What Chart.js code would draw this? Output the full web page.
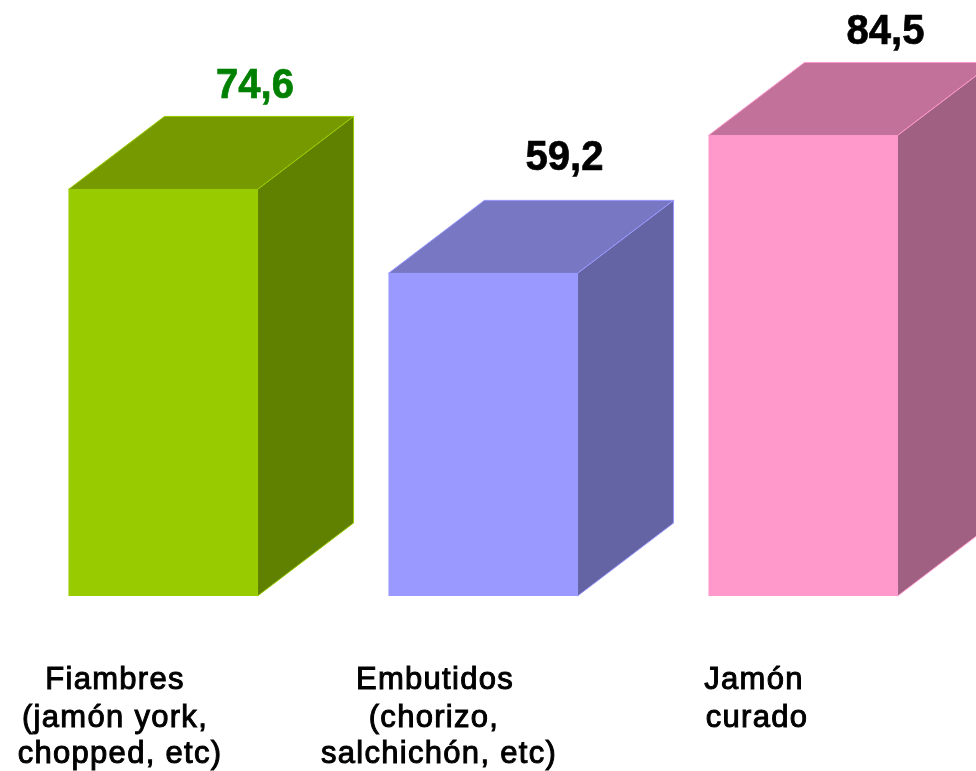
<!DOCTYPE html>
<html>
<head>
<meta charset="utf-8">
<title>Consumo</title>
<script src="https://cdn.jsdelivr.net/npm/chart.js@4"></script>
<style>
html,body{margin:0;padding:0;background:#fff;overflow:hidden}
canvas{display:block}
</style>
</head>
<body>
<canvas id="chart" width="976" height="771"></canvas>
<script>
const categories = ['Fiambres', 'Embutidos', 'Jamón curado'];
const categoryLines = [
  ['Fiambres', '(jamón york,', 'chopped, etc)'],
  ['Embutidos', '(chorizo,', 'salchichón, etc)'],
  ['Jamón', 'curado']
];
const values = [74.6, 59.2, 84.5];
const valueLabels = ['74,6', '59,2', '84,5'];
const valueColors = ['#008000', '#000000', '#000000'];
const frontColors = ['#99cc00', '#9999ff', '#ff99cc'];
const topColors = ['#779900', '#7777c4', '#c2729a'];
const sideColors = ['#608000', '#6464a4', '#a06082'];

// fake 3d depth of the boxes
const depthX = 96, depthY = 73;
// text placement relative to each bar
const valueDx = [92, 81.5, 82.5];
const valueDy = [91, 103, 91];
const lineDx = [[-48, -48, -43], [-48, -49, -44], [-49, -46]];
const lineBaseY = [689, 727, 763];

const box3d = {
  id: 'box3d',
  beforeDatasetsDraw(chart) {
    const ctx = chart.ctx;
    chart.getDatasetMeta(0).data.forEach((bar, i) => {
      const l = bar.x - bar.width / 2, r = bar.x + bar.width / 2;
      const t = bar.y, b = bar.base;
      ctx.save();
      ctx.lineWidth = 1;
      ctx.strokeStyle = frontColors[i];
      ctx.fillStyle = topColors[i];
      ctx.beginPath();
      ctx.moveTo(l, t);
      ctx.lineTo(l + depthX, t - depthY);
      ctx.lineTo(r + depthX, t - depthY);
      ctx.lineTo(r, t);
      ctx.closePath();
      ctx.fill();
      ctx.stroke();
      ctx.fillStyle = sideColors[i];
      ctx.beginPath();
      ctx.moveTo(r, t);
      ctx.lineTo(r + depthX, t - depthY);
      ctx.lineTo(r + depthX, b - depthY);
      ctx.lineTo(r, b);
      ctx.closePath();
      ctx.fill();
      ctx.stroke();
      ctx.restore();
    });
  },
  afterDatasetsDraw(chart) {
    const ctx = chart.ctx;
    chart.getDatasetMeta(0).data.forEach((bar, i) => {
      ctx.save();
      ctx.textAlign = 'center';
      ctx.textBaseline = 'alphabetic';
      ctx.fillStyle = valueColors[i];
      ctx.strokeStyle = valueColors[i];
      ctx.lineWidth = 0.7;
      ctx.font = 'bold 43px "Liberation Sans"';
      ctx.fillText(valueLabels[i], bar.x + valueDx[i], bar.y - valueDy[i], 78);
      ctx.strokeText(valueLabels[i], bar.x + valueDx[i], bar.y - valueDy[i], 78);

      ctx.fillStyle = '#000';
      ctx.strokeStyle = '#000';
      ctx.lineWidth = 1;
      ctx.font = '31px "Liberation Sans"';
      ctx.letterSpacing = '1.3px';
      categoryLines[i].forEach((line, n) => {
        ctx.fillText(line, bar.x + lineDx[i][n], lineBaseY[n]);
        ctx.strokeText(line, bar.x + lineDx[i][n], lineBaseY[n]);
      });
      ctx.restore();
    });
  }
};

new Chart(document.getElementById('chart').getContext('2d'), {
  type: 'bar',
  data: {
    labels: categories,
    datasets: [{
      data: values,
      backgroundColor: frontColors,
      borderWidth: 0,
      barPercentage: 0.591,
      categoryPercentage: 1
    }]
  },
  options: {
    responsive: false,
    animation: false,
    layout: { padding: { left: 3, right: 13, top: 51, bottom: 175 } },
    plugins: { legend: { display: false }, tooltip: { enabled: false } },
    scales: {
      x: { display: false },
      y: { display: false, min: 0, max: 100 }
    }
  },
  plugins: [box3d]
});
</script>
</body>
</html>
